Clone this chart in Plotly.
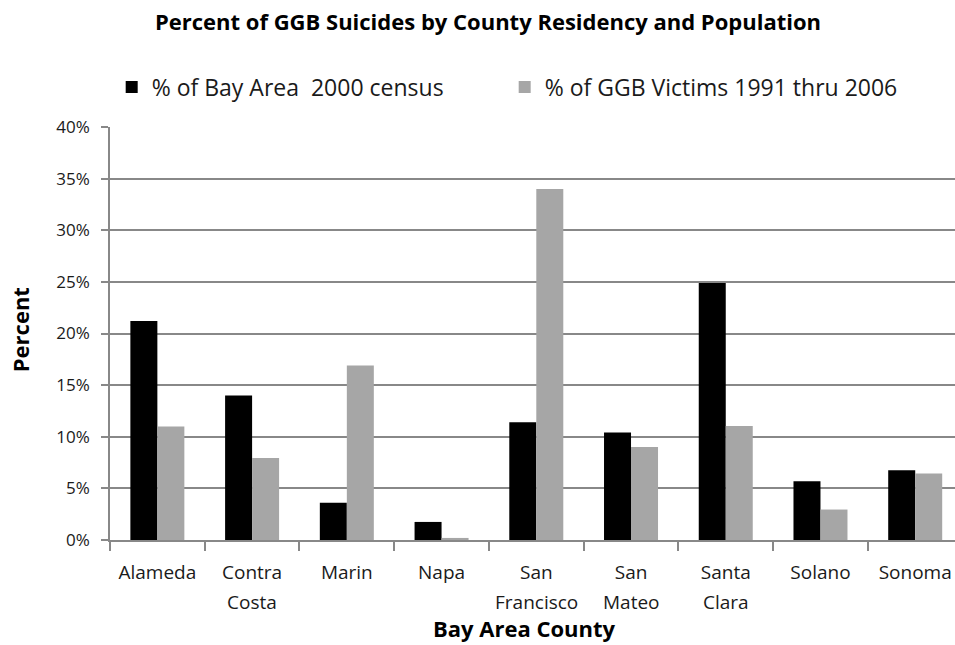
import plotly.graph_objects as go

counties = ["Alameda", "Contra Costa", "Marin", "Napa", "San Francisco",
            "San Mateo", "Santa Clara", "Solano", "Sonoma"]
census_pct = [21.2, 14.0, 3.6, 1.75, 11.4, 10.4, 24.9, 5.7, 6.75]
victims_pct = [11.0, 7.95, 16.9, 0.2, 34.0, 9.0, 11.05, 2.95, 6.45]
y_ticks = [0, 5, 10, 15, 20, 25, 30, 35, 40]
y_tick_labels = [f"{v}%" for v in y_ticks]

first_line = [c.split(" ", 1)[0] for c in counties]
second_line = [c.split(" ", 1)[1] if " " in c else "" for c in counties]

FONT = "Open Sans, Lato, sans-serif"
TXT = "#1a1a1a"
AXC = "#888888"

fig = go.Figure()
fig.add_trace(go.Bar(name="% of Bay Area  2000 census", x=counties, y=census_pct,
                     marker=dict(color="#000000", line=dict(width=0))))
fig.add_trace(go.Bar(name="% of GGB Victims 1991 thru 2006", x=counties, y=victims_pct,
                     marker=dict(color="#a6a6a6", line=dict(width=0))))

annotations = [
    dict(text="<b>Bay Area County</b>", xref="paper", yref="paper",
         x=0.491, y=-0.213, xanchor="center", yanchor="middle", showarrow=False,
         font=dict(family=FONT, size=22, color="#000000")),
    dict(text="<b>Percent</b>", xref="paper", yref="paper", textangle=-90,
         x=-0.1065, y=0.508, xanchor="center", yanchor="middle", showarrow=False,
         font=dict(family=FONT, size=22, color="#000000")),
]
for c, s in zip(counties, second_line):
    if s:
        annotations.append(dict(text=s, x=c, xref="x", y=-0.150, yref="paper",
                                xanchor="center", yanchor="middle", showarrow=False,
                                font=dict(family=FONT, size=19, color=TXT)))

fig.update_layout(
    width=955, height=645,
    paper_bgcolor="white", plot_bgcolor="white",
    barmode="group", bargap=0.43, bargroupgap=0,
    margin=dict(l=110, r=0, t=127, b=105),
    font=dict(family=FONT, size=19, color=TXT),
    title=dict(text="<b>Percent of GGB Suicides by County Residency and Population</b>",
               x=0.511, xanchor="center", xref="container",
               y=0.965, yanchor="middle", yref="container",
               font=dict(family=FONT, size=22, color="#000000")),
    legend=dict(orientation="h", x=0.002, xanchor="left", y=1.097, yanchor="middle",
                font=dict(family=FONT, size=23, color=TXT),
                entrywidth=348, entrywidthmode="pixels", bgcolor="rgba(0,0,0,0)"),
    showlegend=True,
    annotations=annotations,
)
fig.update_xaxes(
    range=[-0.5, 8.42], showline=True, linecolor=AXC, linewidth=1.5,
    tickmode="array", tickvals=counties, ticktext=first_line,
    ticks="outside", tickson="boundaries", ticklen=9, tickcolor=AXC, tickwidth=1.5,
    ticklabelstandoff=14, showgrid=False,
    tickfont=dict(family=FONT, size=19, color=TXT),
)
fig.update_yaxes(
    range=[0, 40], tickvals=y_ticks, ticktext=y_tick_labels,
    showline=True, linecolor=AXC, linewidth=1.5,
    ticks="outside", ticklen=7, tickcolor=AXC, tickwidth=1.5,
    ticklabelstandoff=8,
    showgrid=True, gridcolor=AXC, gridwidth=1.5, zeroline=False,
    tickfont=dict(family=FONT, size=17, color=TXT),
)

fig.write_html("out.html", config={"displayModeBar": False},
               post_script="document.body.style.margin='0';document.body.style.overflow='hidden';")
